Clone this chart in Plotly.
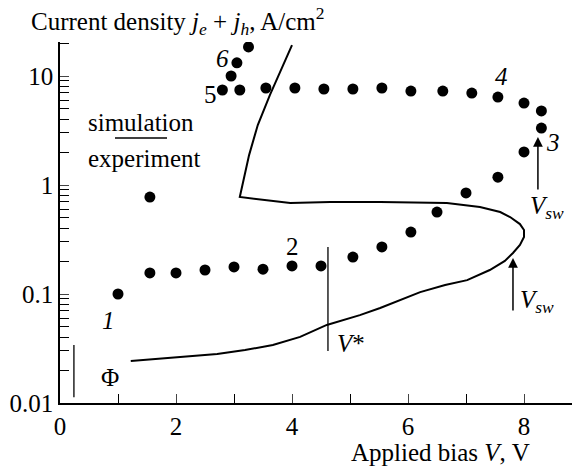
import numpy as np
import plotly.graph_objects as go

# ---- data ----
V_exp = [1.0, 1.55, 2.0, 2.5, 3.0, 3.5, 4.0, 4.5, 5.05, 5.55, 6.05, 6.5, 7.0, 7.55, 8.0, 8.3,
         8.3, 8.0, 7.55, 7.1, 6.6, 6.05, 5.55, 5.05, 4.55, 4.05, 3.55, 3.1, 2.8, 2.95, 3.05, 3.25,
         1.55]
J_exp = [0.10, 0.156, 0.156, 0.166, 0.177, 0.169, 0.181, 0.181, 0.218, 0.27, 0.37, 0.565, 0.845, 1.18, 2.01, 3.33,
         4.78, 5.65, 6.41, 6.98, 7.28, 7.28, 7.76, 7.6, 7.6, 7.76, 7.76, 7.44, 7.44, 10.0, 13.2, 18.5,
         0.775]

V_sim = [1.22, 1.98, 2.71, 3.19, 3.67, 4.14, 4.60, 5.17, 5.52, 6.21, 6.64, 7.02, 7.41, 7.67, 7.81, 7.93,
         8.0, 8.0, 7.93, 7.76, 7.59, 7.24, 6.67, 5.52, 4.66, 3.97, 3.53, 3.10, 3.26, 3.41, 3.62, 4.0]
J_sim = [0.0243, 0.0264, 0.0282, 0.0306, 0.034, 0.0404, 0.052, 0.064, 0.0744, 0.104, 0.121, 0.134, 0.166, 0.201, 0.238, 0.282,
         0.333, 0.386, 0.438, 0.508, 0.565, 0.628, 0.684, 0.698, 0.698, 0.684, 0.728, 0.776, 1.88, 3.55, 6.70, 19.2]

V_star = [4.62, 4.62]
J_star = [0.03, 0.27]
V_phi = [0.24, 0.24]
J_phi = [0.0113, 0.034]

x_tickvals = [0, 2, 4, 6, 8]
y_tickvals = [0.01, 0.1, 1, 10]
y_ticktext = ["0.01", "0.1", "1", "10"]

# ---- layout geometry ----
W, H = 575, 468
L, R, T, B = 60, 3, 42, 65
pw, ph = W - L - R, H - T - B
xmax = pw / 58.0
ylog_top = -2 + ph / 109.0

FONT = "Liberation Serif, Times New Roman, DejaVu Serif, serif"
FS = 25

def px(xp):
    return (xp - L) / pw

def py(yp):
    return (H - B - yp) / ph

fig = go.Figure()
fig.add_trace(go.Scatter(x=V_sim, y=J_sim, mode="lines",
                         line=dict(color="black", width=2),
                         showlegend=False, hoverinfo="skip"))
fig.add_trace(go.Scatter(x=V_exp, y=J_exp, mode="markers",
                         marker=dict(color="black", size=11), showlegend=False))
fig.add_trace(go.Scatter(x=V_star, y=J_star, mode="lines",
                         line=dict(color="black", width=1.3), showlegend=False))
fig.add_trace(go.Scatter(x=V_phi, y=J_phi, mode="lines",
                         line=dict(color="black", width=1.3), showlegend=False))

ann = []
def dtext(text, x, y, size=FS, xanchor="center", yanchor="middle"):
    ann.append(dict(text=text, x=x, y=np.log10(y), xref="x", yref="y", showarrow=False,
                    font=dict(family=FONT, size=size, color="black"),
                    xanchor=xanchor, yanchor=yanchor))

def ptext(text, xp, yp, size=FS, xanchor="center", yanchor="middle"):
    ann.append(dict(text=text, x=px(xp), y=py(yp), xref="paper", yref="paper", showarrow=False,
                    font=dict(family=FONT, size=size, color="black"),
                    xanchor=xanchor, yanchor=yanchor))

dtext("<i>1</i>", 0.83, 0.0577)
dtext("2", 4.0, 0.27)
dtext("<i>3</i>", 8.5, 2.48)
dtext("<i>4</i>", 7.62, 9.8)
dtext("5", 2.59, 6.7)
dtext("<i>6</i>", 2.81, 14.6)
dtext("Φ", 0.86, 0.0173)
dtext("<i>V</i>*", 4.74, 0.0355, xanchor="left")
dtext("<i>V<sub>sw</sub></i>", 8.07, 0.628, xanchor="left")
dtext("<i>V<sub>sw</sub></i>", 7.9, 0.0845, xanchor="left")

# arrows (V_sw)
for xv, yv in [(8.24, 2.75), (7.81, 0.214)]:
    ann.append(dict(x=xv, y=np.log10(yv), xref="x", yref="y", ax=0, ay=54, axref="pixel",
                    showarrow=True, arrowhead=2, arrowsize=1.3, arrowwidth=1.5,
                    arrowcolor="black", text=""))

ptext("simulation", 141, 122)
ptext("experiment", 144, 158)
ptext("Current density <i>j<sub>e</sub></i> + <i>j<sub>h</sub></i>, A/cm<sup>2</sup>", 29, 21, xanchor="left")
ptext("Applied bias <i>V</i>, V", 532, 452, xanchor="right")

fig.update_layout(
    width=W, height=H,
    margin=dict(l=L, r=R, t=T, b=B),
    paper_bgcolor="white", plot_bgcolor="white",
    annotations=ann,
    shapes=[dict(type="line", xref="paper", yref="paper", x0=px(115), x1=px(167),
                 y0=py(138), y1=py(138), line=dict(color="black", width=1.5))],
    xaxis=dict(range=[0, xmax], tickvals=x_tickvals, ticks="inside", ticklen=9, tickwidth=1.3,
               showline=True, linecolor="black", linewidth=1.5, showgrid=False, zeroline=False,
               tickfont=dict(family=FONT, size=FS, color="black"),
               minor=dict(dtick=1, ticks="inside", ticklen=9, tickwidth=1.3, tickcolor="black", showgrid=False)),
    yaxis=dict(type="log", range=[-2, ylog_top], tickvals=y_tickvals, ticktext=y_ticktext,
               ticks="inside", ticklen=9, tickwidth=1.3,
               showline=True, linecolor="black", linewidth=1.5, showgrid=False, zeroline=False,
               tickfont=dict(family=FONT, size=FS, color="black"),
               minor=dict(dtick="D1", ticks="inside", ticklen=9, tickwidth=1.3, tickcolor="black", showgrid=False)),
)

fig.write_html("out.html")
